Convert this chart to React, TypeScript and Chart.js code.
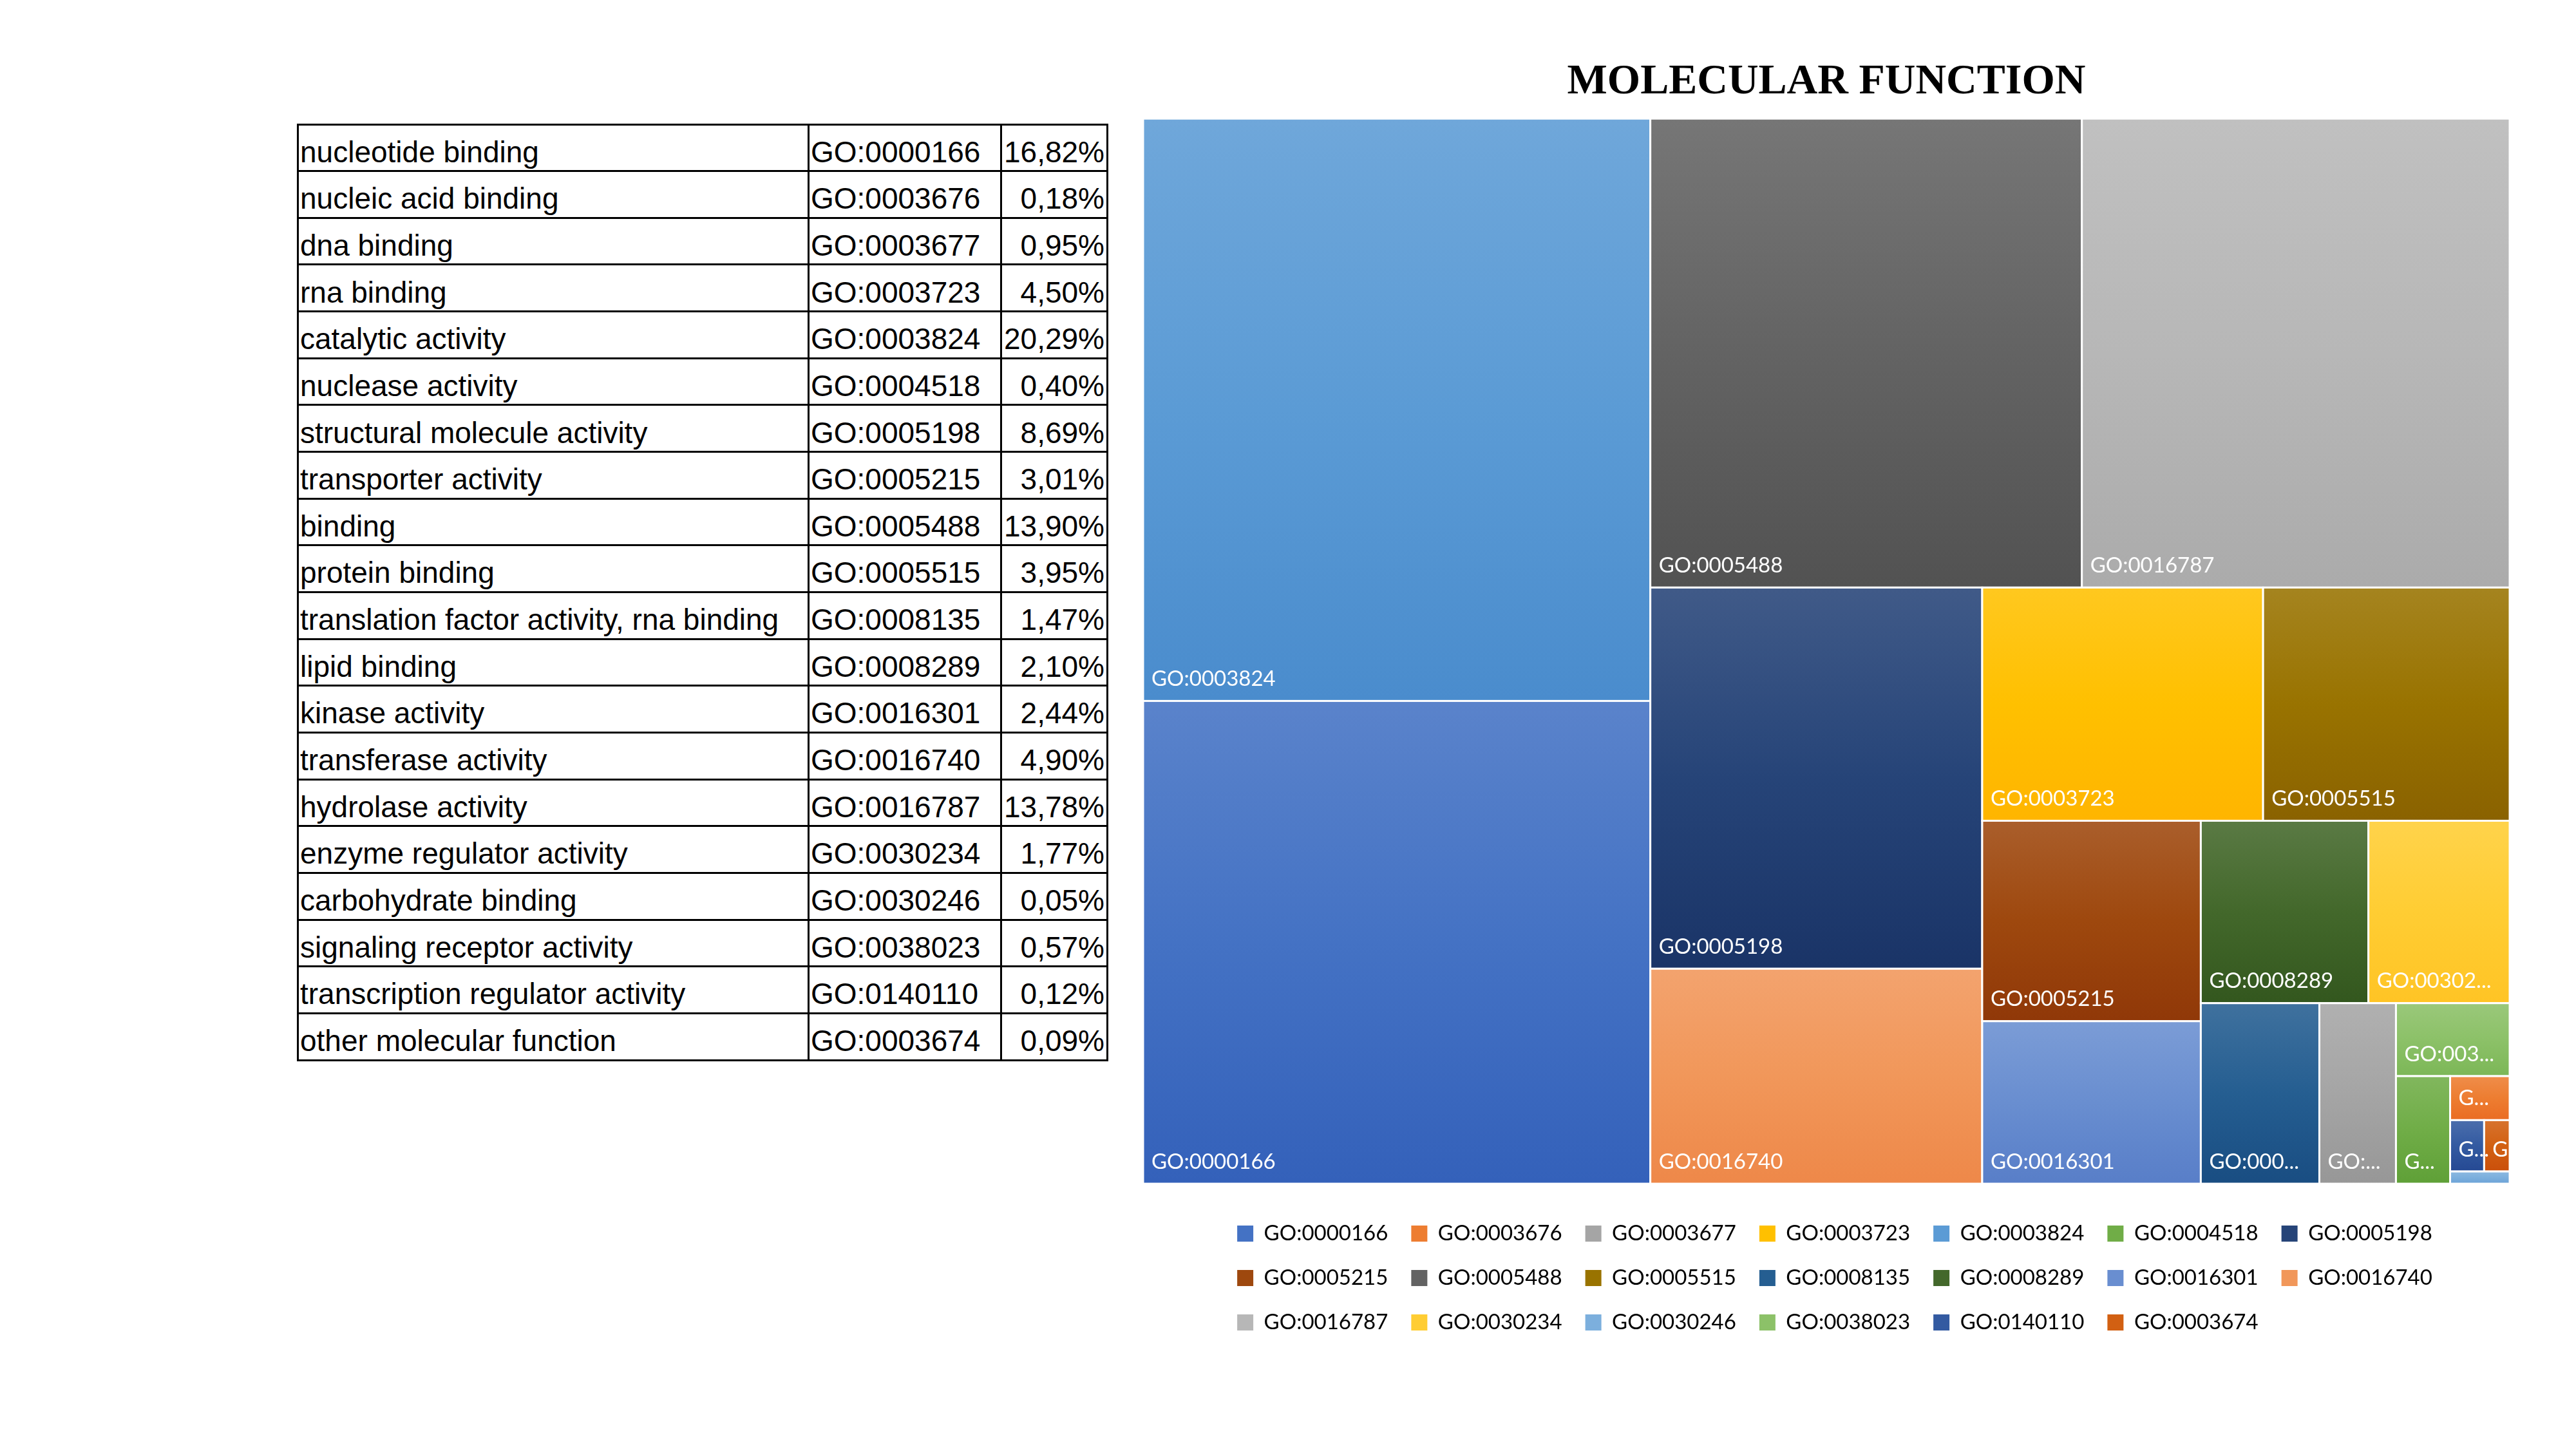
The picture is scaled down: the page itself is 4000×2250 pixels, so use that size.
import React, { useEffect, useRef } from "react";
import { Chart, registerables } from "chart.js";

Chart.register(...registerables);

// ---------------- data ----------------
const functionNames = [
  "nucleotide binding",
  "nucleic acid binding",
  "dna binding",
  "rna binding",
  "catalytic activity",
  "nuclease activity",
  "structural molecule activity",
  "transporter activity",
  "binding",
  "protein binding",
  "translation factor activity, rna binding",
  "lipid binding",
  "kinase activity",
  "transferase activity",
  "hydrolase activity",
  "enzyme regulator activity",
  "carbohydrate binding",
  "signaling receptor activity",
  "transcription regulator activity",
  "other molecular function",
];

const goIds = [
  "GO:0000166", "GO:0003676", "GO:0003677", "GO:0003723", "GO:0003824",
  "GO:0004518", "GO:0005198", "GO:0005215", "GO:0005488", "GO:0005515",
  "GO:0008135", "GO:0008289", "GO:0016301", "GO:0016740", "GO:0016787",
  "GO:0030234", "GO:0030246", "GO:0038023", "GO:0140110", "GO:0003674",
];

const percents = [
  16.82, 0.18, 0.95, 4.5, 20.29,
  0.4, 8.69, 3.01, 13.9, 3.95,
  1.47, 2.1, 2.44, 4.9, 13.78,
  1.77, 0.05, 0.57, 0.12, 0.09,
];

const seriesColors = [
  "#4472C4", "#ED7D31", "#A5A5A5", "#FFC000", "#5B9BD5",
  "#70AD47", "#264478", "#9E480E", "#636363", "#997300",
  "#255E91", "#43682B", "#698ED0", "#F1975A", "#B7B7B7",
  "#FFCD33", "#7CAFDD", "#8CC168", "#335AA1", "#D26012",
];

const chartTitle = "MOLECULAR FUNCTION";

// ---------------- layout / style constants ----------------
const CANVAS_LEFT = 1699;
const CANVAS_W = 2274;
const CANVAS_H = 2100;
const Y_MAX = 101.51; // a little room under the treemap before the legend
const ASPECT_WEIGHT = 1.2; // horizontal weighting used when judging squareness
const GAP = 3;
const LABEL_FONT = "33px Lato";
const LABEL_PAD_L = 13;
const LABEL_PAD_R = 20;
const LABEL_BOTTOM = 34;
const LABEL_MIN_H = 40;
const LEGEND_SHIFT = 13;

const TABLE_LEFT = 462;
const TABLE_TOP = 193;
const COL_W = [793, 299, 165];
const ROW_H = 72.65;

const fmtPercent = (v: number) => v.toFixed(2).replace(".", ",") + "%";

function rgbOf(hex: string) {
  const n = parseInt(hex.slice(1), 16);
  return [(n >> 16) & 255, (n >> 8) & 255, n & 255];
}
function tint(hex: string, t: number) {
  const [r, g, b] = rgbOf(hex).map((c) => Math.round(c + (255 - c) * t));
  return `rgb(${r},${g},${b})`;
}
function deepen(hex: string, gamma: number) {
  const [r, g, b] = rgbOf(hex).map((c) => Math.round(255 * Math.pow(c / 255, gamma)));
  return `rgb(${r},${g},${b})`;
}

type Cell = { i: number; x: number; y: number; w: number; h: number };

// squarified treemap in data units; kx/ky = pixels per data unit
function squarify(values: number[], rect: { x: number; y: number; w: number; h: number }, kx: number, ky: number): Cell[] {
  const order = values.map((_, i) => i).sort((a, b) => values[b] - values[a]);
  const out: Cell[] = [];
  let items = order.slice();
  let r = { ...rect };
  while (items.length) {
    const wPx = r.w * kx;
    const hPx = r.h * ky;
    const wS = wPx * ASPECT_WEIGHT;
    const total = items.reduce((s, i) => s + values[i], 0);
    const vertical = wPx >= hPx;
    const worst = (row: number[]) => {
      const s = row.reduce((a, i) => a + values[i], 0);
      let m = 0;
      for (const i of row) {
        const v = values[i];
        const a = vertical ? ((s / total) * wS) / ((v / s) * hPx) : ((v / s) * wS) / ((s / total) * hPx);
        m = Math.max(m, a, 1 / a);
      }
      return m;
    };
    let row = [items[0]];
    let best = worst(row);
    for (let k = 1; k < items.length; k++) {
      const cand = items.slice(0, k + 1);
      const wv = worst(cand);
      if (wv <= best) {
        row = cand;
        best = wv;
      } else break;
    }
    const rowSum = row.reduce((a, i) => a + values[i], 0);
    if (vertical) {
      const cw = (r.w * rowSum) / total;
      let yy = r.y;
      for (const i of row) {
        const ch = (r.h * values[i]) / rowSum;
        out.push({ i, x: r.x, y: yy, w: cw, h: ch });
        yy += ch;
      }
      r = { x: r.x + cw, y: r.y, w: r.w - cw, h: r.h };
    } else {
      const rh = (r.h * rowSum) / total;
      let xx = r.x;
      for (const i of row) {
        const cw = (r.w * values[i]) / rowSum;
        out.push({ i, x: xx, y: r.y, w: cw, h: rh });
        xx += cw;
      }
      r = { x: r.x, y: r.y + rh, w: r.w, h: r.h - rh };
    }
    items = items.slice(row.length);
  }
  return out;
}

function fitLabel(ctx: CanvasRenderingContext2D, text: string, avail: number) {
  if (ctx.measureText(text).width <= avail) return text;
  for (let n = text.length - 1; n >= 1; n--) {
    const s = text.slice(0, n) + "...";
    if (ctx.measureText(s).width <= avail) return s;
  }
  return text.slice(0, 1) + "...";
}

const treemapPlugin = {
  id: "treemapCells",
  afterDatasetsDraw(chart: any) {
    const { ctx, chartArea } = chart;
    const xs = chart.scales.x;
    const ys = chart.scales.y;
    const kx = Math.abs(xs.getPixelForValue(1) - xs.getPixelForValue(0));
    const ky = Math.abs(ys.getPixelForValue(1) - ys.getPixelForValue(0));
    const cells = squarify(percents, { x: 0, y: 0, w: 100, h: 100 }, kx, ky);
    ctx.save();
    const boxes = cells.map((c) => {
      const x0 = xs.getPixelForValue(c.x);
      const x1 = xs.getPixelForValue(c.x + c.w);
      const y0 = ys.getPixelForValue(c.y);
      const y1 = ys.getPixelForValue(c.y + c.h);
      return { i: c.i, x0, x1, y0, y1 };
    });
    for (const b of boxes) {
      const base = seriesColors[b.i];
      const g = ctx.createLinearGradient(0, b.y0, 0, b.y1);
      g.addColorStop(0, tint(base, 0.12));
      g.addColorStop(0.5, base);
      g.addColorStop(1, deepen(base, 1.2));
      ctx.fillStyle = g;
      ctx.fillRect(b.x0, b.y0, b.x1 - b.x0, b.y1 - b.y0);
      ctx.strokeStyle = "#ffffff";
      ctx.lineWidth = GAP;
      ctx.strokeRect(b.x0, b.y0, b.x1 - b.x0, b.y1 - b.y0);
    }
    ctx.beginPath();
    ctx.rect(chartArea.left, chartArea.top, chartArea.right - chartArea.left, chartArea.bottom - chartArea.top);
    ctx.clip();
    ctx.font = LABEL_FONT;
    ctx.fillStyle = "#ffffff";
    ctx.textBaseline = "middle";
    ctx.textAlign = "left";
    for (const b of boxes) {
      const h = b.y1 - b.y0;
      if (h < LABEL_MIN_H) continue;
      const txt = fitLabel(ctx, goIds[b.i], b.x1 - b.x0 - LABEL_PAD_L - LABEL_PAD_R);
      ctx.fillText(txt, b.x0 + LABEL_PAD_L, b.y1 - LABEL_BOTTOM);
    }
    ctx.restore();
  },
};

const legendBlockPlugin = {
  id: "legendBlock",
  afterLayout(chart: any) {
    const lg = chart.legend;
    if (!lg || !lg.lineWidths || !lg.lineWidths.length) return;
    const pad = lg.options.labels.padding;
    const block = Math.max(...lg.lineWidths) - pad;
    const ca = chart.chartArea;
    const start = (ca.left + ca.right) / 2 - block / 2 + LEGEND_SHIFT;
    lg.left = start - pad;
  },
};

function TreemapChart() {
  const ref = useRef<HTMLCanvasElement | null>(null);
  useEffect(() => {
    if (!ref.current) return;
    const chart = new Chart(ref.current, {
      type: "scatter",
      data: {
        datasets: [{ label: "GO terms", data: [], pointRadius: 0 }],
      },
      options: {
        animation: false,
        responsive: false,
        devicePixelRatio: 1,
        layout: { padding: { left: 76, right: 76, top: 78, bottom: 20 } },
        scales: {
          x: { type: "linear", min: 0, max: 100, display: false },
          y: { type: "linear", min: 0, max: Y_MAX, reverse: true, display: false },
        },
        plugins: {
          tooltip: { enabled: false },
          title: {
            display: true,
            text: chartTitle,
            color: "#000000",
            font: { family: "Liberation Serif", size: 66, weight: "bold" },
            padding: { top: 10, bottom: 17 },
          },
          legend: {
            display: true,
            position: "bottom",
            align: "start",
            labels: {
              font: { family: "Lato", size: 33 },
              color: "#2a2a2a",
              boxWidth: 25,
              boxHeight: 25,
              padding: 36,
              generateLabels: () =>
                goIds.map((id, i) => ({
                  text: id,
                  fillStyle: seriesColors[i],
                  strokeStyle: seriesColors[i],
                  lineWidth: 0,
                  hidden: false,
                  datasetIndex: 0,
                })),
            },
          },
        },
      } as any,
      plugins: [treemapPlugin, legendBlockPlugin],
    });
    return () => chart.destroy();
  }, []);
  return (
    <canvas
      ref={ref}
      width={CANVAS_W}
      height={CANVAS_H}
      style={{ position: "absolute", left: CANVAS_LEFT, top: 0, width: CANVAS_W, height: CANVAS_H }}
    />
  );
}

function GoTable() {
  const colX = [0, COL_W[0], COL_W[0] + COL_W[1], COL_W[0] + COL_W[1] + COL_W[2]];
  const totalW = colX[3];
  const totalH = ROW_H * functionNames.length;
  const line = "#000000";
  const textBase: React.CSSProperties = {
    position: "absolute",
    height: ROW_H,
    display: "flex",
    alignItems: "flex-end",
    fontFamily: "'Liberation Sans', Arial, sans-serif",
    fontSize: 46,
    lineHeight: "46px",
    paddingBottom: 7,
    boxSizing: "border-box",
    whiteSpace: "nowrap",
    color: "#000000",
  };
  return (
    <div style={{ position: "absolute", left: TABLE_LEFT, top: TABLE_TOP, width: totalW, height: totalH }}>
      {functionNames.map((name, i) => (
        <React.Fragment key={i}>
          <div style={{ ...textBase, top: i * ROW_H, left: colX[0] + 4, width: COL_W[0] - 6 }}>{name}</div>
          <div style={{ ...textBase, top: i * ROW_H, left: colX[1] + 4, width: COL_W[1] - 6 }}>{goIds[i]}</div>
          <div
            style={{
              ...textBase,
              top: i * ROW_H,
              left: colX[2] + 2,
              width: COL_W[2] - 6,
              justifyContent: "flex-end",
            }}
          >
            {fmtPercent(percents[i])}
          </div>
        </React.Fragment>
      ))}
      {Array.from({ length: functionNames.length + 1 }, (_, k) => (
        <div
          key={"h" + k}
          style={{ position: "absolute", left: -1.5, top: k * ROW_H - 1.5, width: totalW + 3, height: 3, background: line }}
        />
      ))}
      {colX.map((x, k) => (
        <div
          key={"v" + k}
          style={{ position: "absolute", left: x - 1.5, top: -1.5, width: 3, height: totalH + 3, background: line }}
        />
      ))}
    </div>
  );
}

export default function App() {
  return (
    <div style={{ width: 3984, height: 2234, background: "#ffffff" }}>
      <GoTable />
      <TreemapChart />
    </div>
  );
}
